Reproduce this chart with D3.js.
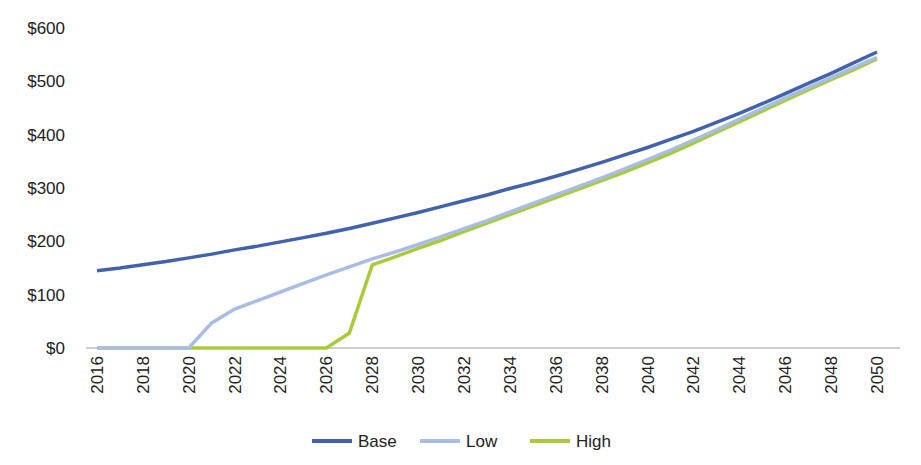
<!DOCTYPE html>
<html><head><meta charset="UTF-8">
<script src="https://d3js.org/d3.v7.min.js"></script>
<style>body{margin:0;background:#fff;font-family:"Liberation Sans",Arial,sans-serif}</style>
</head><body><svg width="921" height="465"></svg>
<script>
var years = d3.range(2016, 2051);
var base = [145,150,156,162,169,176,184,191,199,207,215,224,234,244,254,265,276,287,299,310,322,335,348,362,376,391,406,423,440,458,477,496,515,535,555];
var low = [0,0,0,0,0,47,73,89,105,121,137,152,167,180,194,209,224,239,255,271,287,303,319,336,353,371,390,409,429,449,469,488,507,526,545];
var high = [0,0,0,0,0,0,0,0,0,0,0,28,156,171,187,202,218,234,250,266,282,298,314,330,347,365,384,404,424,444,464,484,503,522,542];
var series = [{name:'Base', values:base, color:'#4262ae'},
              {name:'Low', values:low, color:'#a9bde4'},
              {name:'High', values:high, color:'#a9cb3b'}];
var yTicks = [0,100,200,300,400,500,600];

var svg = d3.select('svg');
var x = d3.scaleLinear().domain([2016, 2050]).range([97, 877]);
var y = d3.scaleLinear().domain([0, 600]).range([348, 28]);

// y labels
svg.append('g').selectAll('text').data(yTicks).enter().append('text')
  .attr('x', 65).attr('y', function(d){ return y(d); }).attr('dy', '0.35em')
  .attr('text-anchor', 'end').attr('font-size', 17).attr('fill', '#222')
  .text(function(d){ return '$' + d; });

// x axis
svg.append('line').attr('x1', 86).attr('x2', 900).attr('y1', y(0)).attr('y2', y(0))
  .attr('stroke', '#999').attr('stroke-width', 1);
svg.append('g').selectAll('text').data(years.filter(function(d){ return d % 2 === 0; })).enter().append('text')
  .attr('transform', function(d){ return 'translate(' + x(d) + ',356) rotate(-90)'; })
  .attr('dy', '0.35em').attr('text-anchor', 'end').attr('font-size', 17).attr('fill', '#222')
  .text(function(d){ return d; });

var line = d3.line().x(function(d, i){ return x(years[i]); }).y(function(d){ return y(d); });
series.slice().reverse().forEach(function(s){
  svg.append('path').datum(s.values).attr('d', line).attr('fill', 'none')
    .attr('stroke', s.color).attr('stroke-width', 3.5);
});

// legend
var lx = [312, 420, 530];
series.forEach(function(s, i){
  svg.append('line').attr('x1', lx[i]).attr('x2', lx[i] + 40).attr('y1', 441).attr('y2', 441)
    .attr('stroke', s.color).attr('stroke-width', 4);
  svg.append('text').attr('x', lx[i] + 46).attr('y', 441).attr('dy', '0.35em')
    .attr('font-size', 17).attr('fill', '#222').text(s.name);
});
</script></body></html>
